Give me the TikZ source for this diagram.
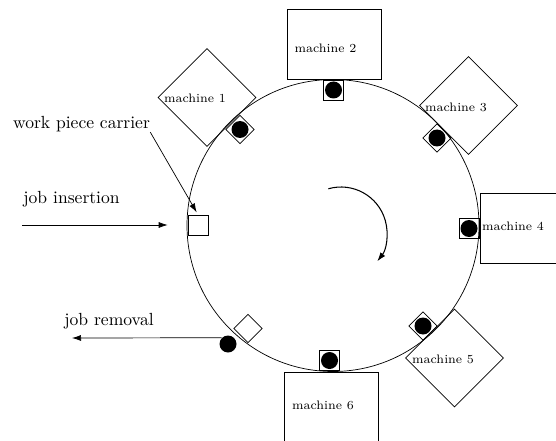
\documentclass[tikz,border=0pt]{standalone}
\usepackage{tikz}
\usetikzlibrary{arrows.meta}
\usetikzlibrary{positioning}

\begin{document}
\begin{tikzpicture}[>={Latex[length=1.8mm,width=1.2mm]},auto,
    machine node/.style={draw,inner sep=0pt,minimum width=1.88cm,minimum height=1.4cm},
    turned node/.style={draw,rotate=45,inner sep=0pt,minimum size=1.38cm},
    carrier node/.style={draw,inner sep=0pt,minimum size=0.4cm},
    job node/.style={circle,fill=black,inner sep=0pt,minimum size=0.34cm},
    name node/.style={font=\scriptsize,inner sep=0pt},
    text node/.style={inner sep=0pt}]
  \useasboundingbox (0,0) rectangle (11.12,8.8);
  % the ring
  \node[circle,draw,inner sep=0pt,minimum size=5.84cm] (ring) at (6.66,4.29) {};
  \coordinate (turn) at (6.82,4.14);
  % machines
  \node[turned node]  (m1) at (4.14,6.85) {};
  \node[machine node] (m2) at (6.69,7.92) {};
  \node[turned node]  (m3) at (9.37,6.69) {};
  \node[machine node] (m4) at (10.54,4.23) {};
  \node[turned node]  (m5) at (9.09,1.64) {};
  \node[machine node] (m6) at (6.63,0.66) {};
  \node[name node] (t1) at (3.90,6.84) {machine 1};
  \node[name node] (t2) at (6.51,7.84) {machine 2};
  \node[name node] (t3) at (9.12,6.66) {machine 3};
  \node[name node] (t4) at (10.26,4.28) {machine 4};
  \node[name node] (t5) at (8.86,1.62) {machine 5};
  \node[name node] (t6) at (6.46,0.70) {machine 6};
  % carriers
  \node[carrier node,rotate=45] (c1) at (4.80,6.21) {};
  \node[carrier node]           (c2) at (6.67,7.00) {};
  \node[carrier node,rotate=45] (c3) at (8.74,6.04) {};
  \node[carrier node]           (c4) at (9.38,4.23) {};
  \node[carrier node,rotate=45] (c5) at (8.46,2.28) {};
  \node[carrier node]           (c6) at (6.59,1.59) {};
  \node[carrier node,rotate=45] (c7) at (4.96,2.23) {};
  \node[carrier node]           (c8) at (3.96,4.30) {};
  % jobs
  \node[job node] (j1) at (c1) {};
  \node[job node] (j2) at (c2) {};
  \node[job node] (j3) at (c3) {};
  \node[job node] (j4) at (c4) {};
  \node[job node] (j5) at (c5) {};
  \node[job node] (j6) at (c6) {};
  \node[job node] (out) at (4.56,1.92) {};
  % texts and arrows
  \node[text node] (wpc) at (1.63,6.32) {work piece carrier};
  \node[text node] (insert) at (1.43,4.82) {job insertion};
  \node[text node] (remove) at (2.18,2.38) {job removal};
  \coordinate (ins) at (0.44,4.30);
  \coordinate (rem) at (1.44,2.04);
  \path[->,line width=0.4pt] (ins) edge[shorten >=0.4cm] (c8.west);
  \path[->,line width=0.4pt] (wpc.south east) edge[shorten >=1.5pt] (c8.north);
  \path[->,line width=0.4pt] (out.north west) edge (rem);
  \draw[->,semithick] ([shift={(106:0.92)}]turn) arc[start angle=106,end angle=-38,radius=0.92];
\end{tikzpicture}
\end{document}
